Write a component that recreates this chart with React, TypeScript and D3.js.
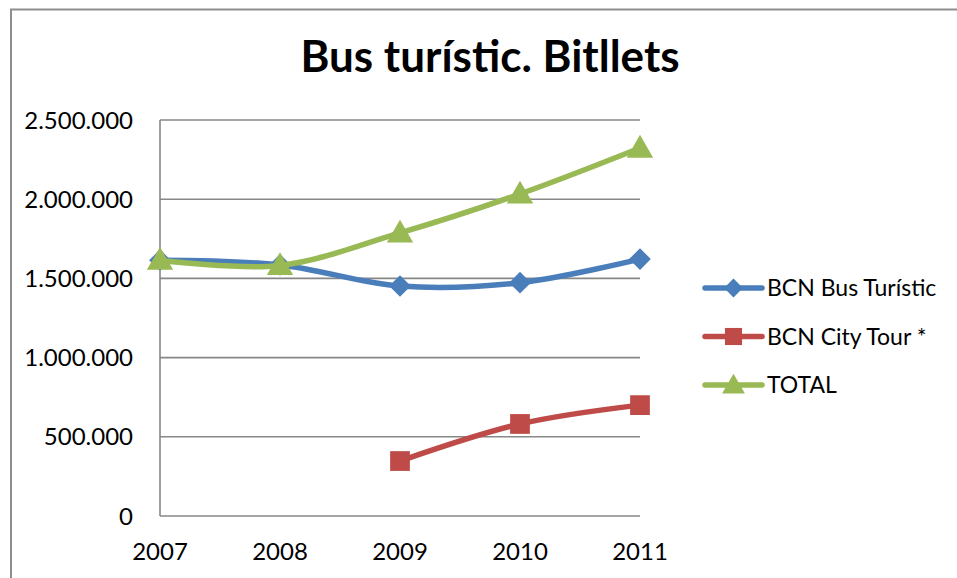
import * as d3 from "d3";
import React, { useEffect, useRef } from "react";

// Chart data
const years = ["2007", "2008", "2009", "2010", "2011"];
const busTuristic = [1615000, 1585000, 1452000, 1473000, 1622000];
const cityTour: (number | null)[] = [null, null, 347000, 581000, 700000];
const total = [1615000, 1582000, 1787000, 2033000, 2323000];
const yTicks = [0, 500000, 1000000, 1500000, 2000000, 2500000];
const seriesNames = ["BCN Bus Turístic", "BCN City Tour *", "TOTAL"];

const W = 957;
const H = 578;
const FONT = "Lato, 'Open Sans', sans-serif";

const App: React.FC = () => {
  const svgRef = useRef<SVGSVGElement | null>(null);

  useEffect(() => {
    const svg = d3.select(svgRef.current);
    svg.selectAll("*").remove();

    // chart frame (only left/top visible in the picture)
    svg
      .append("rect")
      .attr("x", 11)
      .attr("y", 9.5)
      .attr("width", W + 40)
      .attr("height", H + 40)
      .attr("fill", "white")
      .attr("stroke", "#8e8e8e")
      .attr("stroke-width", 2);

    const xScale = d3.scalePoint<string>().domain(years).range([160, 640]);
    const yScale = d3.scaleLinear().domain([0, 2500000]).range([516, 120]);

    // gridlines
    svg
      .append("g")
      .selectAll("line")
      .data(yTicks)
      .enter()
      .append("line")
      .attr("x1", 160)
      .attr("x2", 640)
      .attr("y1", (d) => yScale(d))
      .attr("y2", (d) => yScale(d))
      .attr("stroke", "#878787")
      .attr("stroke-width", 1.6);

    // vertical axis line
    svg
      .append("line")
      .attr("x1", 160)
      .attr("x2", 160)
      .attr("y1", yScale(2500000))
      .attr("y2", yScale(0))
      .attr("stroke", "#878787")
      .attr("stroke-width", 1.6);

    // y tick labels (dots as thousands separator)
    const fmt = (v: number) => d3.format(",")(v).replace(/,/g, ".");
    svg
      .append("g")
      .selectAll("text")
      .data(yTicks)
      .enter()
      .append("text")
      .attr("x", 133)
      .attr("y", (d) => yScale(d))
      .attr("dy", "0.36em")
      .attr("text-anchor", "end")
      .attr("font-family", FONT)
      .attr("font-size", "24px")
      .attr("fill", "black")
      .text((d) => fmt(d));

    // x tick labels
    svg
      .append("g")
      .selectAll("text")
      .data(years)
      .enter()
      .append("text")
      .attr("x", (d) => xScale(d)!)
      .attr("y", 560)
      .attr("text-anchor", "middle")
      .attr("font-family", FONT)
      .attr("font-size", "24px")
      .attr("fill", "black")
      .text((d) => d);

    // title
    svg
      .append("text")
      .attr("x", 490)
      .attr("y", 72)
      .attr("text-anchor", "middle")
      .attr("font-family", FONT)
      .attr("font-weight", "bold")
      .attr("font-size", "44px")
      .attr("fill", "black")
      .text("Bus turístic. Bitllets");

    const colors = ["#4a7ebb", "#be4b48", "#98b954"];
    const symbols = [d3.symbolDiamond2, d3.symbolSquare, d3.symbolTriangle];
    const symbolSizes = [300, 390, 300];
    const allSeries = [busTuristic, cityTour, total];

    const line = d3
      .line<{ year: string; value: number | null }>()
      .defined((d) => d.value != null)
      .x((d) => xScale(d.year)!)
      .y((d) => yScale(d.value as number))
      .curve(d3.curveCatmullRom.alpha(0));

    const markerPath = (i: number) => d3.symbol().type(symbols[i]).size(symbolSizes[i])()!;

    allSeries.forEach((values, i) => {
      const pts = years.map((year, j) => ({ year, value: values[j] }));
      const g = svg.append("g");
      g.append("path")
        .attr("fill", "none")
        .attr("stroke", colors[i])
        .attr("stroke-width", 5.5)
        .attr("stroke-linejoin", "round")
        .attr("stroke-linecap", "round")
        .attr("d", line(pts)!);

      g.selectAll("path.marker")
        .data(pts.filter((p) => p.value != null))
        .enter()
        .append("path")
        .attr("class", "marker")
        .attr("transform", (d) => {
          const dy = i === 2 ? 2 : 0;
          return `translate(${xScale(d.year)}, ${yScale(d.value as number) + dy})`;
        })
        .attr("d", markerPath(i))
        .attr("fill", colors[i]);
    });

    // legend
    const legend = svg.append("g").attr("transform", "translate(705, 288)");
    seriesNames.forEach((name, i) => {
      const row = legend.append("g").attr("transform", `translate(0, ${i * 48.5})`);
      row
        .append("line")
        .attr("x1", 0)
        .attr("x2", 57)
        .attr("y1", 0)
        .attr("y2", 0)
        .attr("stroke", colors[i])
        .attr("stroke-width", 5.5)
        .attr("stroke-linecap", "round");
      row
        .append("path")
        .attr("transform", `translate(28.5, ${i === 2 ? 2 : 0})`)
        .attr("d", d3.symbol().type(symbols[i]).size(symbolSizes[i] * 0.75)()!)
        .attr("fill", colors[i]);
      row
        .append("text")
        .attr("x", 62)
        .attr("y", 0)
        .attr("dy", "0.36em")
        .attr("font-family", FONT)
        .attr("font-size", "23px")
        .attr("fill", "black")
        .text(name);
    });
  }, []);

  return (
    <div style={{ position: "absolute", left: 0, top: 0 }}>
      <svg ref={svgRef} width={W} height={H} style={{ display: "block" }}></svg>
    </div>
  );
};

export default App;
